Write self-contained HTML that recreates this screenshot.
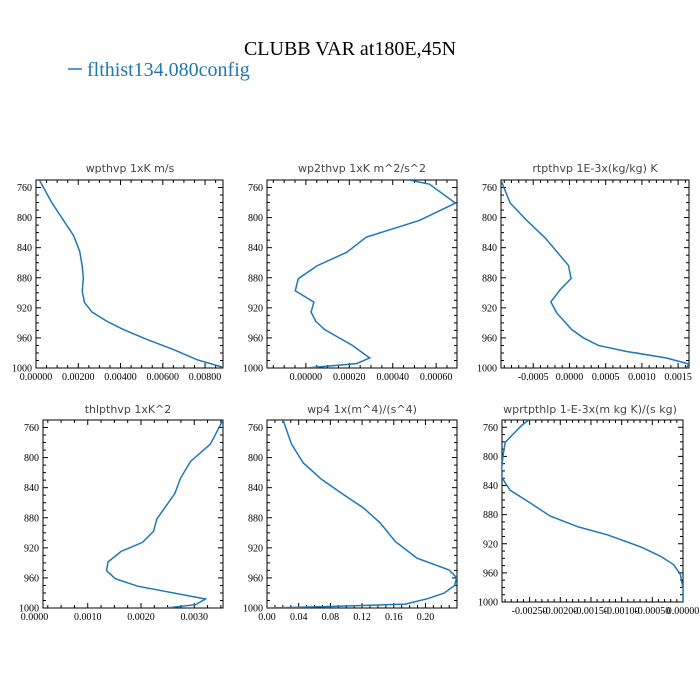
<!DOCTYPE html>
<html><head><meta charset="utf-8"><style>
body{margin:0;background:#fff;width:700px;height:700px;overflow:hidden}
svg{display:block}
.tk{font-family:"Liberation Serif",serif;font-size:10px;fill:#000}
.pt{font-family:"DejaVu Sans","Liberation Sans",sans-serif;font-size:11px;fill:#444}
</style></head><body>
<svg id="fig" width="700" height="700" viewBox="0 0 700 700">
<text x="350" y="55" text-anchor="middle" font-family="Liberation Serif,serif" font-size="20">CLUBB VAR at180E,45N</text>
<g>
<line x1="68" y1="69" x2="82" y2="69" stroke="#1f77b4" stroke-width="1.5"/>
<text x="87" y="76" font-family="Liberation Serif,serif" font-size="20" fill="#1f77b4">flthist134.080config</text>
</g>
</svg>
<script>
const pLevels = [760,800,840,880,920,960,1000];
const p1 = [750,780.7,800.7,824,845,865,880.4,898,912.7,925.6,938,949,962,975.6,989,998.7];
const v1 = [0.00016,0.00076,0.00123,0.00178,0.00207,0.00219,0.00224,0.00219,0.00229,0.00265,0.00336,0.00415,0.00525,0.00652,0.00762,0.0088];
const p2 = [750,755.5,780.7,803.8,826,846.3,864,881.3,897.3,912.3,925.6,938,949,969.9,986.7,994.2,1000];
const v2 = [0.000477,0.000569,0.000689,0.000523,0.000278,0.000187,0.000052,-0.000035,-0.000049,0.000037,0.000024,0.000046,0.000087,0.000214,0.000294,0.000233,0.000003];
const p3 = [750.7,780.7,804,827,863.6,881,896,912,927,949,960,970,978,986.7,994.7,1000];
const v3 = [-0.000945,-0.000817,-0.000587,-0.000335,-0.000014,0.000023,-0.000128,-0.000257,-0.000174,0.000032,0.000193,0.0004,0.00079,0.00134,0.00165,0.00161];
const p4 = [750,782,805,827,848,881.6,898,912.6,924.7,938.8,950.4,961,971,988,995.6,1000];
const v4 = [0.00354,0.003304,0.002932,0.002745,0.002634,0.002298,0.002236,0.002031,0.001627,0.001379,0.001354,0.001516,0.001938,0.003211,0.003025,0.002466];
const p5 = [750,782,807,829,849,867,887,911.7,933.8,949.3,959.5,970,980.3,987.8,994.9,998,1000];
const v5 = [0.0203,0.0309,0.0457,0.0689,0.0964,0.1218,0.143,0.162,0.1894,0.2296,0.2393,0.2368,0.2233,0.202,0.1746,0.0795,0];
const p6 = [749.3,757,780.6,800,826,836.6,846.6,864,882,897,907.5,925,937,948.7,962,980.8,1000];
const v6 = [-0.0025,-0.002625,-0.002897,-0.002935,-0.002967,-0.002897,-0.002815,-0.002489,-0.002163,-0.001701,-0.001239,-0.000668,-0.00037,-0.000152,-0.0000435,0,0];
const xt1 = ["0.00000","0.00200","0.00400","0.00600","0.00800"];
const xt2 = ["0.00000","0.00020","0.00040","0.00060"];
const xt3 = ["-0.0005","0.0000","0.0005","0.0010","0.0015"];
const xt4 = ["0.0000","0.0010","0.0020","0.0030"];
const xt5 = ["0.00","0.04","0.08","0.12","0.16","0.20"];
const xt6 = ["-0.00250","-0.00200","-0.00150","-0.00100","-0.00050","0.00000"];

const NS="http://www.w3.org/2000/svg";
const fig=document.getElementById('fig');
function mk(t,a,parent){const e=document.createElementNS(NS,t);for(const k in a)e.setAttribute(k,a[k]);parent.appendChild(e);return e;}

const panels=[
 {name:'wpthvp',title:'wpthvp  1xK m/s',x0:36,x1:223,y0:180,y1:368,xmin:0,xmax:0.00885,p:p1,v:v1,ticks:xt1,minor:0.0005,tx:130,ty:172},
 {name:'wp2thvp',title:'wp2thvp  1xK m^2/s^2',x0:267,x1:457,y0:180,y1:368,xmin:-0.000179,xmax:0.000696,p:p2,v:v2,ticks:xt2,minor:0.00005,tx:362,ty:172},
 {name:'rtpthvp',title:'rtpthvp  1E-3x(kg/kg) K',x0:501,x1:689,y0:180,y1:368,xmin:-0.000945,xmax:0.00165,p:p3,v:v3,ticks:xt3,minor:0.0001,tx:595,ty:172},
 {name:'thlpthvp',title:'thlpthvp  1xK^2',x0:43,x1:223,y0:420,y1:608,xmin:0.00016,xmax:0.00354,p:p4,v:v4,ticks:xt4,minor:0.00025,tx:128,ty:413,tick0:0},
 {name:'wp4',title:'wp4  1x(m^4)/(s^4)',x0:267,x1:457,y0:420,y1:608,xmin:0,xmax:0.2398,p:p5,v:v5,ticks:xt5,minor:0.01,tx:362,ty:413},
 {name:'wprtpthlp',title:'wprtpthlp  1-E-3x(m kg K)/(s kg)',x0:502,x1:683,y0:420,y1:602,xmin:-0.00295,xmax:0,p:p6,v:v6,ticks:xt6,minor:0.0001,tx:590,ty:413}
];

panels.forEach(P=>{
 const g=mk('g',{},fig);
 
 
 const X=v=>P.x0+(v-P.xmin)/(P.xmax-P.xmin)*(P.x1-P.x0);
 const Y=p=>P.y0+(p-750)/(1000-750)*(P.y1-P.y0);
 const t=mk('text',{x:P.tx,y:P.ty,'text-anchor':'middle','class':'pt'},g);t.textContent=P.title;
 
 
 const ax=mk('g',{stroke:'#000','stroke-width':1},g);
 
 
 // minor y ticks
 for(let p=760;p<=1000;p+=10){const y=Y(p);const L=(p%40===0)?5:3;
  mk('line',{x1:P.x0,y1:y,x2:P.x0+L,y2:y},ax);mk('line',{x1:P.x1,y1:y,x2:P.x1-L,y2:y},ax);}
 pLevels.forEach(p=>{const y=Y(p);const tt=mk('text',{x:P.x0-4,y:y+3.5,'text-anchor':'end','class':'tk',stroke:'none'},g);tt.textContent=p;
  
  });
 // x ticks
 const majors=P.ticks.map(parseFloat);
 const step=majors[1]-majors[0];
 for(let v=majors[0]-step*2;v<=P.xmax+1e-12;v+=P.minor){
  if(v<P.xmin-1e-12)continue;const x=X(v);
  const isMaj=majors.some(m=>Math.abs(m-v)<P.minor*0.01);const L=isMaj?5:3;
  mk('line',{x1:x,y1:P.y1,x2:x,y2:P.y1-L},ax);mk('line',{x1:x,y1:P.y0,x2:x,y2:P.y0+L},ax);}
 P.ticks.forEach(s=>{const v=parseFloat(s);const tt=mk('text',{x:X(v),y:P.y1+12,'text-anchor':'middle','class':'tk'},g);tt.textContent=s;
  
  });
 const r=mk('rect',{x:P.x0,y:P.y0,width:P.x1-P.x0,height:P.y1-P.y0,fill:'none',stroke:'#000','stroke-width':1},g);
 
 
 const cid='clip-'+P.name;
 const cp=mk('clipPath',{id:cid},g);mk('rect',{x:P.x0,y:P.y0,width:P.x1-P.x0,height:P.y1-P.y0},cp);
 const d=P.v.map((v,i)=>(i?'L':'M')+X(v).toFixed(2)+','+Y(P.p[i]).toFixed(2)).join(' ');
 const ln=mk('path',{d:d,fill:'none',stroke:'#1f77b4','stroke-width':1.5,'clip-path':'url(#'+cid+')'},g);
 
 
});
</script>
</body></html>
